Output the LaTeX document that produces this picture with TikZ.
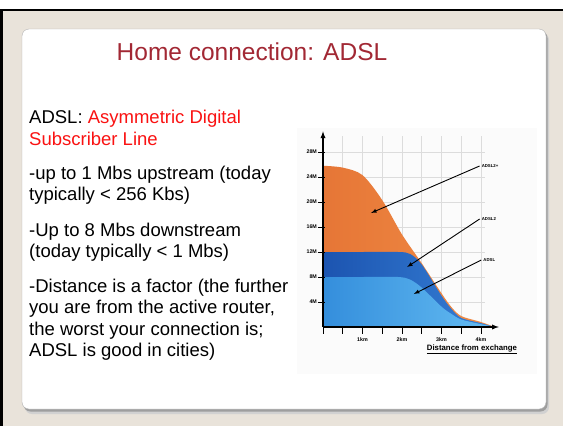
\documentclass[tikz,border=0pt]{standalone}
\usepackage{fontspec}
\setmainfont{Liberation Sans}
\usetikzlibrary{arrows,shapes}
\definecolor{beige}{RGB}{233,227,218}
\definecolor{titlered}{RGB}{162,40,52}
\definecolor{hlred}{RGB}{250,18,18}
\definecolor{orng}{RGB}{240,140,70}
\definecolor{orngdk}{RGB}{230,118,54}
\definecolor{dblue}{RGB}{28,84,176}
\definecolor{dbluelt}{RGB}{54,128,214}
\definecolor{lblue}{RGB}{52,142,220}
\definecolor{lbluelt}{RGB}{100,188,242}
\definecolor{gridgray}{RGB}{220,220,220}
\tikzstyle{txt}=[anchor=base west, align=left, inner sep=0, text=black,
                font=\fontsize{18.5}{21.5}\selectfont]
\tikzstyle{ttl}=[anchor=base, inner sep=0, text=titlered,
                font=\fontsize{24.5}{28}\selectfont]
\tikzstyle{axlbl}=[inner sep=0, font=\fontsize{5.3}{6}\selectfont\bfseries]
\tikzstyle{crvlbl}=[inner sep=2pt, font=\fontsize{4.3}{5}\selectfont\bfseries]
\tikzstyle{ptr}=[-latex, line width=0.9pt]

\begin{document}
\begin{tikzpicture}[x=1pt,y=-1pt]
\path[use as bounding box] (0,0) rectangle (563,426);
\fill[white] (0,0) rectangle (563,426);
\fill[beige] (0,10) rectangle (563,426);
\draw[line width=2.4pt] (1.3,426) -- (1.3,10) -- (563,10);
% card with its shadow
\fill[black!18, rounded corners=7] (25,33) rectangle (549,414);
\fill[black!38, rounded corners=7] (23.5,31) rectangle (547.5,411.5);
\filldraw[fill=white, draw=black!30, line width=0.4pt, rounded corners=7]
  (22,29) rectangle (546,409);

\node[ttl] (title) at (252,60) {Home connection: ADSL};

% base of a multi-line node is its last line
\node[txt] (adsl) at (29,145)
  {ADSL: \textcolor{hlred}{Asymmetric Digital}\\\textcolor{hlred}{Subscriber Line}};
\node[txt] (up) at (29,200.5) {-up to 1 Mbs upstream (today\\typically < 256 Kbs)};
\node[txt] (down) at (29,257.5) {-Up to 8 Mbs downstream\\(today typically < 1 Mbs)};
\node[txt] (dist) at (29,356.5) {-Distance is a factor (the further\\you are from the active router,\\the worst your connection is;\\ADSL is good in cities)};

% rate vs distance chart
\fill[black!1.5] (297,128) rectangle (537,374);
\begin{scope}[shift={(323,327)}, x=39.5pt, y=6.25pt]
\draw[gridgray, line width=0.6pt] (0,0) grid[xstep=0.5, ystep=4] (4.1,30.5);
\shade[left color=orngdk, right color=orng] (0,0) -- plot[smooth] coordinates
  {(0,25.8) (0.5,25.5) (1,24.3) (1.5,20.3) (2,14.8) (2.5,10.2) (3,5.4)
   (3.25,3.2) (3.5,1.75) (4,0.8) (4.35,0)} -- cycle;
\shade[left color=dblue, right color=dbluelt] (0,0) -- plot[smooth] coordinates
  {(0,12) (1,12) (1.9,12) (2.2,11.7) (2.5,10.0) (3,5.0) (3.25,2.9) (3.5,1.45)
   (4,0.62) (4.35,0)} -- cycle;
\shade[left color=lblue, right color=lbluelt] (0,0) -- plot[smooth] coordinates
  {(0,8) (1,8) (1.9,8) (2.2,7.6) (2.5,6.3) (3,3.25) (3.25,2.1) (3.5,1.2)
   (4,0.45) (4.35,0)} -- cycle;
% axes
\draw[line width=1.3pt, -latex] (0,0) -- (0,31.3);
\draw[line width=1.3pt, -latex] (0,0) -- (4.45,0);
\foreach \v in {4,8,...,28}{
  \draw[line width=1pt] (-0.13,\v) -- (0.06,\v);
  \node[axlbl, anchor=east] (ylab\v) at (-0.15,\v) {\v M};
}
\foreach \k in {0,0.5,...,4}
  \draw[line width=1pt] (\k,0) -- (\k,-1.1);
\foreach \k in {1,2,3,4}
  \node[axlbl] (xlab\k) at (\k,-1.95) {\k km};
\node[crvlbl] (l2p) at (4.23,25.76) {ADSL2+};
\node[crvlbl] (l2) at (4.2,17.28) {ADSL2};
\node[crvlbl] (l1) at (4.21,10.72) {ADSL};
\coordinate (t2p) at (1.215,18.24);
\coordinate (t2) at (2.13,9.6);
\coordinate (t1) at (2.3,5.28);
\draw[ptr] (l2p.west) -- (t2p);
\draw[ptr] (l2.west) -- (t2);
\draw[ptr] (l1.west) -- (t1);
\end{scope}
\node[inner sep=0, font=\fontsize{7.8}{9}\selectfont\bfseries] (xaxis) at (472,349)
  {\underline{Distance from exchange}};
\end{tikzpicture}
\end{document}
